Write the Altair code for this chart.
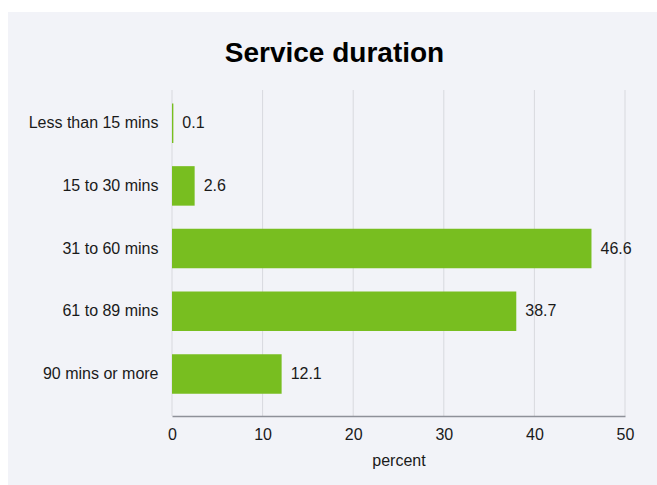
import altair as alt
import pandas as pd

categories = ["Less than 15 mins", "15 to 30 mins", "31 to 60 mins", "61 to 89 mins", "90 mins or more"]
bar_lengths = [0.15, 2.5, 46.3, 38.0, 12.1]
value_labels = ["0.1", "2.6", "46.6", "38.7", "12.1"]
x_ticks = [0, 10, 20, 30, 40, 50]

FONT = "Liberation Sans"
BG = "#f2f3f8"
BAR = "#78be20"
GRID = "#d8d9de"

df = pd.DataFrame({"category": categories, "value": bar_lengths, "label": value_labels})
ticks_df = pd.DataFrame({"tick": x_ticks})

x_scale = alt.Scale(domain=[0, 50], nice=False, zero=True)
y_scale = alt.Scale(domain=categories, paddingInner=0.37, paddingOuter=0.285, align=0.377)

W, H = 453, 326

bg = alt.Chart(alt.Data(values=[{}])).mark_rect(color=BG).encode(
    x=alt.value(-164), x2=alt.value(W + 40), y=alt.value(-78), y2=alt.value(H + 80)
)

grid = alt.Chart(ticks_df).mark_rule(color=GRID, strokeWidth=1).encode(
    x=alt.X("tick:Q", scale=x_scale),
    y=alt.value(0),
    y2=alt.value(H),
)

bars = alt.Chart(df).mark_bar(color=BAR).encode(
    x=alt.X(
        "value:Q",
        scale=x_scale,
        title="percent",
        axis=alt.Axis(
            values=x_ticks, grid=False, ticks=False, tickSize=0, labelPadding=10,
            labelFlush=False, labelOverlap=False,
            domainColor="#8e9199", domainWidth=1.5, labelFontSize=16, labelFont=FONT,
            labelColor="#1a1a1a", titleFont=FONT, titleFontSize=16, titleFontWeight="normal",
            titleColor="#1a1a1a", titlePadding=10, zindex=1,
        ),
    ),
    y=alt.Y(
        "category:N",
        scale=y_scale,
        sort=categories,
        title=None,
        axis=alt.Axis(
            domain=False, ticks=False, tickSize=0, grid=False, labelPadding=14,
            labelFontSize=16, labelFont=FONT, labelColor="#1a1a1a", zindex=1,
        ),
    ),
)

labels = alt.Chart(df).mark_text(
    align="left", baseline="middle", dx=9, fontSize=16, font=FONT, color="#1a1a1a"
).encode(
    x=alt.X("value:Q", scale=x_scale),
    y=alt.Y("category:N", scale=y_scale, sort=categories),
    text="label:N",
)

chart = alt.layer(bg, grid, bars, labels).properties(
    width=W,
    height=H,
    background="white",
    autosize=alt.AutoSizeParams(type="none"),
    padding={"left": 172, "top": 90, "right": 32, "bottom": 69},
    title=alt.TitleParams(
        "Service duration", font=FONT, fontSize=28, fontWeight="bold", color="#000000",
        anchor="middle", frame="group", dx=-64, offset=-78, baseline="alphabetic", zindex=1,
    ),
).configure_view(stroke=None)

chart.save("out.html", embed_options={"renderer": "svg", "actions": False})
